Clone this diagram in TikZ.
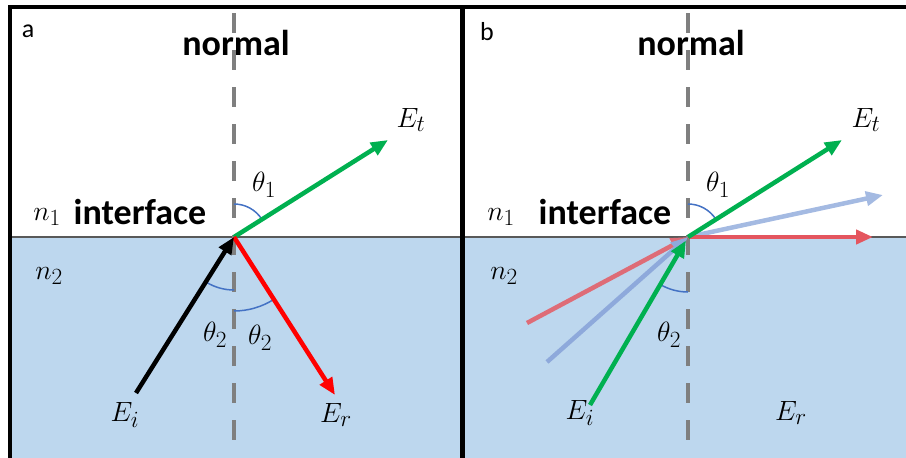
\documentclass[tikz,border=0pt]{standalone}
\usepackage{fontspec}
\setsansfont{Carlito}
\definecolor{WaterBlue}{HTML}{BDD7EE}
\definecolor{RayGreen}{HTML}{00B050}
\definecolor{NormalGray}{HTML}{7F7F7F}
\definecolor{ArcBlue}{HTML}{4472C4}
\definecolor{PaleBlue}{HTML}{8EA9DB}
\definecolor{EdgeGray}{HTML}{595959}
\usepackage{tikz}
\usetikzlibrary{arrows.meta}

\begin{document}
\begin{tikzpicture}[x=1pt,y=-1pt,
    ray/.style={line width=4.5pt,-{Triangle[length=17pt,width=14pt]}},
    normalline/.style={NormalGray,line width=4pt,dash pattern=on 20pt off 17pt},
    anglearc/.style={ArcBlue,line width=1.5pt},
    word/.style={font=\sffamily\bfseries\fontsize{36}{40}\selectfont},
    panel/.style={font=\sffamily\fontsize{26}{30}\selectfont},
    sym/.style={font=\fontsize{24.88}{28}\selectfont, scale=1.12}]
  \useasboundingbox (0,0) rectangle (906,458);
  % media
  \fill[WaterBlue] (12,237) rectangle (906,458);
  \draw[EdgeGray, line width=1.2pt] (12,237) -- (906,237);
  % frame
  \draw[line width=4pt] (10,458) -- (10,6.5) -- (906,6.5);
  \draw[line width=5pt] (462,6.5) -- (462,458);

  % panel a
  \coordinate (Oa) at (234,237);
  \coordinate (Eta) at (388,140);
  \coordinate (Eia) at (136,393);
  \coordinate (Era) at (335,395);
  \node[panel] (tagA) at (28,31) {a};
  \node[word] (normA) at (236,43) {normal};
  \node[word] (intA) at (140,212) {interface};
  \node[sym] (n1a) at (47,217) {$n_1$};
  \node[sym] (n2a) at (49,276) {$n_2$};
  \node[sym] (Etla) at (411,120) {$E_t$};
  \node[sym] (th1a) at (264,185) {$\theta_1$};
  \node[sym] (th2la) at (215,335) {$\theta_2$};
  \node[sym] (th2ra) at (260,338) {$\theta_2$};
  \node[sym] (Eila) at (125,415) {$E_i$};
  \node[sym] (Erla) at (336,415) {$E_r$};
  \draw[normalline] (234,13) -- (234,443);
  \draw[anglearc] (234,204) arc[start angle=-90, end angle=-32, radius=33];
  \draw[anglearc] (234,290) arc[start angle=90, end angle=122, radius=53];
  \draw[anglearc] (234,311) arc[start angle=90, end angle=57.4, radius=74];
  \draw[ray, RayGreen] (Oa) -- (Eta);
  \draw[ray, red] (Oa) -- (Era);
  \draw[ray, black] (Eia) -- (Oa);

  % panel b
  \coordinate (Ob) at (688,237);
  \coordinate (Etb) at (842,140);
  \coordinate (Ptb) at (883,195);
  \coordinate (Rhb) at (873,237);
  \coordinate (Rib) at (527,323);
  \coordinate (Pib) at (547,362);
  \coordinate (Eib) at (590,405);
  \node[panel] (tagB) at (487,32) {b};
  \node[word] (normB) at (691,43) {normal};
  \node[word] (intB) at (605,212) {interface};
  \node[sym] (n1b) at (501,217) {$n_1$};
  \node[sym] (n2b) at (504,276) {$n_2$};
  \node[sym] (Etlb) at (866,120) {$E_t$};
  \node[sym] (th1b) at (718,185) {$\theta_1$};
  \node[sym] (th2b) at (669,335) {$\theta_2$};
  \node[sym] (Eilb) at (580,413) {$E_i$};
  \node[sym] (Erlb) at (791,413) {$E_r$};
  \draw[normalline] (688,13) -- (688,443);
  \draw[anglearc] (688,204) arc[start angle=-90, end angle=-32, radius=33];
  \draw[anglearc] (688,292) arc[start angle=90, end angle=120, radius=55];
  \draw[ray, red!50!WaterBlue] (Rib) -- (Ob);
  \draw[ray, PaleBlue] (Pib) -- (Ob);
  \draw[ray, PaleBlue!80!white] (Ob) -- (Ptb);
  \draw[ray, red!60!WaterBlue] (Ob) -- (Rhb);
  \draw[ray, RayGreen] (Ob) -- (Etb);
  \draw[ray, RayGreen, shorten >=4pt] (Eib) -- (Ob);
\end{tikzpicture}
\end{document}
